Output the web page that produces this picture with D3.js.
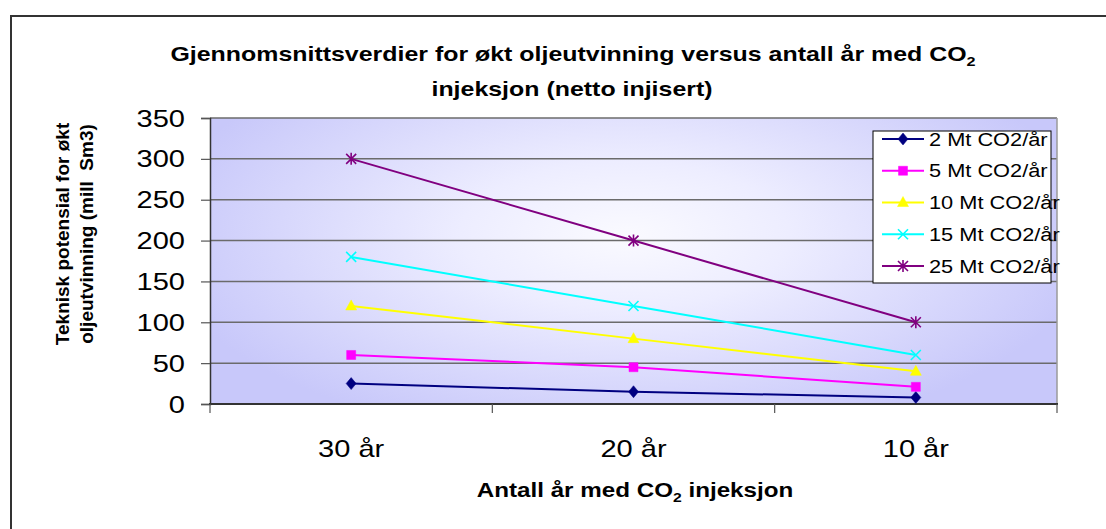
<!DOCTYPE html>
<html>
<head>
<meta charset="utf-8">
<script src="https://cdn.jsdelivr.net/npm/d3@7"></script>
<style>
  html, body { margin: 0; padding: 0; background: #fff; }
  svg { display: block; }
  text { font-family: "Liberation Sans", Arial, sans-serif; fill: #000; }
</style>
</head>
<body>
<svg id="chart" width="1106" height="529"></svg>
<script>
// Categories (years of CO2 injection) and series values (mill Sm3)
const categories = ["30 år", "20 år", "10 år"];
const seriesNames = ["2 Mt CO2/år", "5 Mt CO2/år", "10 Mt CO2/år", "15 Mt CO2/år", "25 Mt CO2/år"];
const values2Mt  = [25, 15, 8];
const values5Mt  = [60, 45, 21];
const values10Mt = [120, 80, 40];
const values15Mt = [180, 120, 60];
const values25Mt = [300, 200, 100];
const yTicks = [0, 50, 100, 150, 200, 250, 300, 350];

const seriesColors = ["#000080", "#ff00ff", "#ffff00", "#00ffff", "#800080"];
const seriesMarkers = ["diamond", "square", "triangle", "x", "asterisk"];
const seriesValues = [values2Mt, values5Mt, values10Mt, values15Mt, values25Mt];
const series = seriesNames.map((name, i) => ({
  name, color: seriesColors[i], marker: seriesMarkers[i], values: seriesValues[i]
}));

const SX = 1.21; // horizontal text stretch
const svg = d3.select("#chart");

// outer chart frame
svg.append("rect").attr("x", 11).attr("y", 16).attr("width", 1120).attr("height", 540)
  .attr("fill", "#fff").attr("stroke", "#333").attr("stroke-width", 2);

const plot = { left: 210, right: 1057, top: 118, bottom: 404 };
const x = d3.scaleBand().domain(categories).range([plot.left, plot.right]);
const y = d3.scaleLinear().domain([0, 350]).range([plot.bottom, plot.top]);
const cx = c => x(c) + x.bandwidth() / 2;

// plot background gradient
const defs = svg.append("defs");
const grad = defs.append("radialGradient").attr("id", "bg")
  .attr("gradientUnits", "userSpaceOnUse")
  .attr("cx", 0).attr("cy", 0).attr("r", 1)
  .attr("gradientTransform", "translate(625,235) scale(470,210)");
grad.append("stop").attr("offset", "0").attr("stop-color", "#fafaff");
grad.append("stop").attr("offset", "0.35").attr("stop-color", "#ededff");
grad.append("stop").attr("offset", "1").attr("stop-color", "#c8c8fa");
svg.append("rect").attr("x", plot.left).attr("y", plot.top)
  .attr("width", plot.right - plot.left).attr("height", plot.bottom - plot.top)
  .attr("fill", "url(#bg)");

// horizontal gridlines
svg.append("g").selectAll("line").data(yTicks.filter(t => t > 0)).join("line")
  .attr("x1", plot.left).attr("x2", plot.right)
  .attr("y1", d => y(d)).attr("y2", d => y(d))
  .attr("stroke", "#6b6b6b").attr("stroke-width", 1.5);

// right edge of plot area
svg.append("line").attr("x1", plot.right).attr("x2", plot.right)
  .attr("y1", plot.top).attr("y2", plot.bottom)
  .attr("stroke", "#9a9a9a").attr("stroke-width", 1.5);

// y axis
const yAxis = svg.append("g").attr("transform", `translate(${plot.left},0)`)
  .call(d3.axisLeft(y).tickValues(yTicks).tickSize(9).tickFormat(""));
yAxis.select(".domain").attr("stroke", "#333").attr("stroke-width", 1.5);
yAxis.selectAll(".tick line").attr("stroke", "#555").attr("stroke-width", 1.2);

// x axis: ticks at category boundaries
const xAxis = svg.append("g").attr("transform", `translate(0,${plot.bottom})`);
xAxis.append("line").attr("x1", plot.left - 1).attr("x2", plot.right + 1)
  .attr("stroke", "#333").attr("stroke-width", 2);
const boundaries = categories.map(c => x(c)).concat([plot.right]);
xAxis.selectAll("line.tk").data(boundaries).join("line").attr("class", "tk")
  .attr("x1", d => d).attr("x2", d => d).attr("y1", 0).attr("y2", 9)
  .attr("stroke", "#555").attr("stroke-width", 1.2);

// text helper (optionally stretched horizontally)
function label(parent, px, py, str, opts = {}) {
  const sx = opts.sx === undefined ? SX : opts.sx;
  const g = parent.append("g")
    .attr("transform", `translate(${px},${py}) scale(${sx},1)` + (opts.rotate ? ` rotate(${opts.rotate})` : ""));
  const t = g.append("text")
    .attr("text-anchor", opts.anchor || "middle")
    .attr("font-size", opts.size || 20)
    .attr("font-weight", opts.bold ? "bold" : "normal");
  if (opts.sub) {
    t.append("tspan").text(str);
    t.append("tspan").text(opts.sub).attr("font-size", (opts.size || 20) * 0.65).attr("dy", 5);
    if (opts.after) t.append("tspan").text(opts.after).attr("dy", -5);
  } else {
    t.text(str);
  }
  return t;
}

// y tick labels
yTicks.forEach(t => label(svg, 185, y(t) + 8.5, String(t), { anchor: "end", size: 24 }));

// x tick labels
categories.forEach(c => label(svg, cx(c), 457, c, { size: 24 }));

// titles
label(svg, 573, 61, "Gjennomsnittsverdier for økt oljeutvinning versus antall år med CO", { bold: true, size: 20.6, sub: "2" });
label(svg, 572, 96, "injeksjon (netto injisert)", { bold: true, size: 20.6 });
label(svg, 635, 497, "Antall år med CO", { bold: true, size: 20, sub: "2", after: " injeksjon" });
label(svg, 69, 234, "Teknisk potensial for økt", { bold: true, size: 19, rotate: -90, sx: 1 });
label(svg, 93, 234, "oljeutvinning (mill  Sm3)", { bold: true, size: 19, rotate: -90, sx: 1 }).attr("xml:space", "preserve");

// marker shapes
function markerPath(type) {
  switch (type) {
    case "diamond": return "M0,-6L5,0L0,6L-5,0Z";
    case "square": return "M-4.5,-4.5H4.5V4.5H-4.5Z";
    case "triangle": return "M0,-6L5.5,4H-5.5Z";
    case "x": return "M-5,-5L5,5M5,-5L-5,5";
    case "asterisk": return "M-5,-5L5,5M5,-5L-5,5M0,-6V6";
  }
}
function drawMarker(g, type, color) {
  const stroked = type === "x" || type === "asterisk";
  g.append("path").attr("d", markerPath(type))
    .attr("fill", stroked ? "none" : color)
    .attr("stroke", color).attr("stroke-width", stroked ? 1.6 : 0.5);
}

// series lines and markers
const line = d3.line().x((d, i) => cx(categories[i])).y(d => y(d));
series.forEach(s => {
  svg.append("path").datum(s.values).attr("d", line)
    .attr("fill", "none").attr("stroke", s.color).attr("stroke-width", 2);
  s.values.forEach((v, i) => {
    const g = svg.append("g").attr("transform", `translate(${cx(categories[i])},${y(v)})`);
    drawMarker(g, s.marker, s.color);
  });
});

// legend
const legend = svg.append("g");
legend.append("rect").attr("x", 873).attr("y", 131).attr("width", 178).attr("height", 152)
  .attr("fill", "#fff").attr("stroke", "#000").attr("stroke-width", 1);
const rowY = d3.scalePoint().domain(seriesNames).range([139, 266]);
series.forEach(s => {
  const ry = rowY(s.name);
  legend.append("line").attr("x1", 882).attr("x2", 924).attr("y1", ry).attr("y2", ry)
    .attr("stroke", s.color).attr("stroke-width", 2);
  const g = legend.append("g").attr("transform", `translate(903,${ry})`);
  drawMarker(g, s.marker, s.color);
  label(legend, 929, ry + 6.5, s.name, { anchor: "start", size: 18 });
});
</script>
</body>
</html>
